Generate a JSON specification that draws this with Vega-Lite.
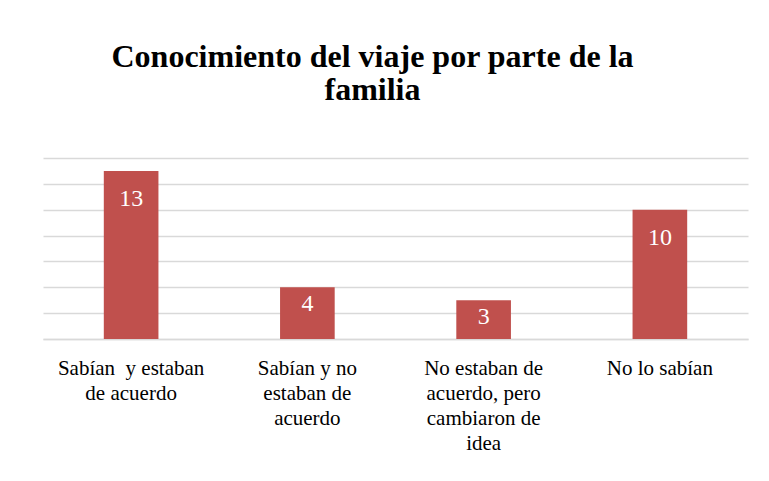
{
  "$schema": "https://vega.github.io/schema/vega-lite/v6.json",
  "width": 705,
  "height": 181,
  "autosize": {"type": "none"},
  "padding": {"left": 43, "top": 158, "right": 21, "bottom": 142},
  "background": "white",
  "title": {
    "text": ["Conocimiento del viaje por parte de la", "familia"],
    "font": "Liberation Serif",
    "fontSize": 32,
    "fontWeight": "bold",
    "color": "#000000",
    "lineHeight": 33,
    "anchor": "middle",
    "dx": -23,
    "offset": 51
  },
  "data": {
    "values": [
      {"categoria": "Sabían \u00a0y estaban|de acuerdo", "valor": 13},
      {"categoria": "Sabían y no|estaban de|acuerdo", "valor": 4},
      {"categoria": "No estaban de|acuerdo, pero|cambiaron de|idea", "valor": 3},
      {"categoria": "No lo sabían", "valor": 10}
    ]
  },
  "config": {
    "view": {"stroke": null},
    "axis": {"labelFont": "Liberation Serif"}
  },
  "encoding": {
    "x": {
      "field": "categoria",
      "type": "nominal",
      "sort": null,
      "scale": {"paddingInner": 0.69, "paddingOuter": 0.345},
      "axis": {
        "title": null,
        "labelAngle": 0,
        "labelExpr": "split(datum.value, '|')",
        "labelFontSize": 21,
        "labelColor": "#000000",
        "labelLineHeight": 25,
        "labelPadding": 18,
        "labelBaseline": "top",
        "ticks": false,
        "domain": true,
        "domainColor": "#d9d9d9",
        "domainWidth": 1.5
      }
    },
    "y": {
      "field": "valor",
      "type": "quantitative",
      "scale": {"domain": [0, 14], "nice": false},
      "axis": {
        "title": null,
        "labels": false,
        "ticks": false,
        "domain": false,
        "values": [0, 2, 4, 6, 8, 10, 12, 14],
        "gridColor": "#d9d9d9",
        "gridWidth": 1.5
      }
    }
  },
  "layer": [
    {"mark": {"type": "bar", "color": "#c0504d"}},
    {
      "transform": [{"filter": "datum.valor >= 5"}],
      "mark": {"type": "text", "color": "#ffffff", "font": "Liberation Serif", "fontSize": 24, "baseline": "middle", "dy": 28},
      "encoding": {"text": {"field": "valor", "type": "quantitative"}}
    },
    {
      "transform": [{"filter": "datum.valor < 5"}],
      "mark": {"type": "text", "color": "#ffffff", "font": "Liberation Serif", "fontSize": 24, "baseline": "middle", "dy": 17},
      "encoding": {"text": {"field": "valor", "type": "quantitative"}}
    }
  ]
}
